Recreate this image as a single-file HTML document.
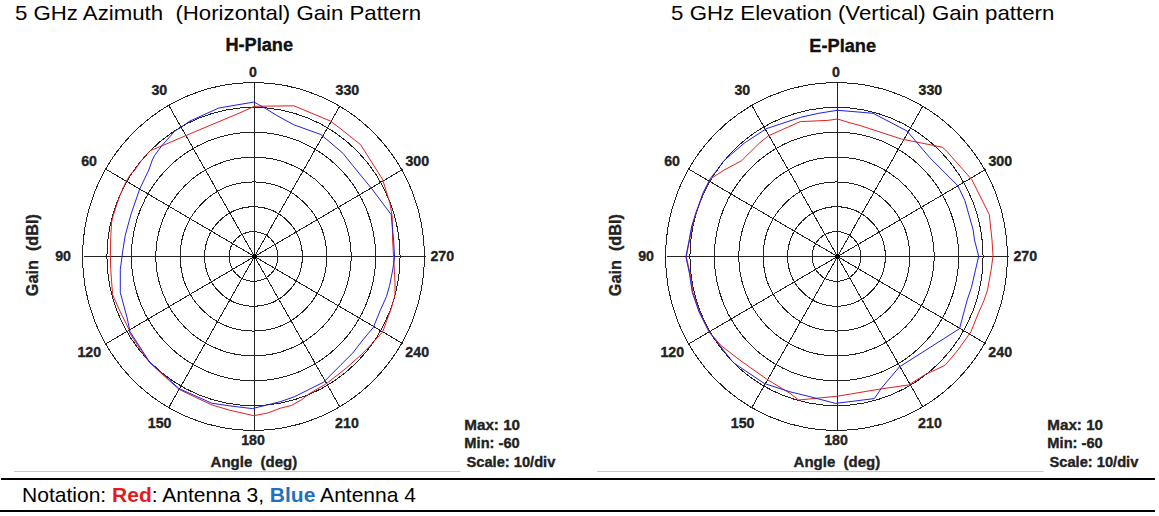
<!DOCTYPE html>
<html><head><meta charset="utf-8"><style>
html,body{margin:0;padding:0;background:#fff;}
svg{display:block;}
</style></head><body>
<svg width="1159" height="516" viewBox="0 0 1159 516">
<rect width="1159" height="516" fill="#fff"/>
<text transform="translate(14.91,20.34) scale(1.1236,1)" font-size="19.79" font-weight="400" font-family="Liberation Sans" fill="#000" stroke="#000" stroke-width="0">5 GHz Azimuth &#160;(Horizontal) Gain Pattern</text>
<text transform="translate(671.11,20.34) scale(1.1240,1)" font-size="19.79" font-weight="400" font-family="Liberation Sans" fill="#000" stroke="#000" stroke-width="0">5 GHz Elevation (Vertical) Gain pattern</text>
<ellipse cx="253.5" cy="256.5" rx="24.43" ry="24.86" fill="none" stroke="#222" stroke-width="1" shape-rendering="crispEdges"/>
<ellipse cx="253.5" cy="256.5" rx="48.86" ry="49.71" fill="none" stroke="#222" stroke-width="1" shape-rendering="crispEdges"/>
<ellipse cx="253.5" cy="256.5" rx="73.29" ry="74.57" fill="none" stroke="#222" stroke-width="1" shape-rendering="crispEdges"/>
<ellipse cx="253.5" cy="256.5" rx="97.71" ry="99.43" fill="none" stroke="#222" stroke-width="1" shape-rendering="crispEdges"/>
<ellipse cx="253.5" cy="256.5" rx="122.14" ry="124.29" fill="none" stroke="#222" stroke-width="1" shape-rendering="crispEdges"/>
<ellipse cx="253.5" cy="256.5" rx="146.57" ry="149.14" fill="none" stroke="#222" stroke-width="1" shape-rendering="crispEdges"/>
<ellipse cx="253.5" cy="256.5" rx="171.00" ry="174.00" fill="none" stroke="#222" stroke-width="1" shape-rendering="crispEdges"/>
<line x1="254.5" y1="256.5" x2="254.50" y2="82.50" stroke="#222" stroke-width="1" shape-rendering="crispEdges"/>
<line x1="254.5" y1="256.5" x2="169.00" y2="105.81" stroke="#222" stroke-width="1" shape-rendering="crispEdges"/>
<line x1="254.5" y1="256.5" x2="106.41" y2="169.50" stroke="#222" stroke-width="1" shape-rendering="crispEdges"/>
<line x1="254.5" y1="256.5" x2="83.50" y2="256.50" stroke="#222" stroke-width="1" shape-rendering="crispEdges"/>
<line x1="254.5" y1="256.5" x2="106.41" y2="343.50" stroke="#222" stroke-width="1" shape-rendering="crispEdges"/>
<line x1="254.5" y1="256.5" x2="169.00" y2="407.19" stroke="#222" stroke-width="1" shape-rendering="crispEdges"/>
<line x1="254.5" y1="256.5" x2="254.50" y2="430.50" stroke="#222" stroke-width="1" shape-rendering="crispEdges"/>
<line x1="254.5" y1="256.5" x2="340.00" y2="407.19" stroke="#222" stroke-width="1" shape-rendering="crispEdges"/>
<line x1="254.5" y1="256.5" x2="402.59" y2="343.50" stroke="#222" stroke-width="1" shape-rendering="crispEdges"/>
<line x1="254.5" y1="256.5" x2="425.50" y2="256.50" stroke="#222" stroke-width="1" shape-rendering="crispEdges"/>
<line x1="254.5" y1="256.5" x2="402.59" y2="169.50" stroke="#222" stroke-width="1" shape-rendering="crispEdges"/>
<line x1="254.5" y1="256.5" x2="340.00" y2="105.81" stroke="#222" stroke-width="1" shape-rendering="crispEdges"/>
<circle cx="254.5" cy="256.5" r="2.6" fill="#000"/>
<polyline points="254.3,106.3 240.0,112.8 190.0,133.8 162.8,145.5 150.0,150.7 144.2,157.7 141.7,160.0 134.9,170.0 131.0,173.6 126.2,181.3 119.4,196.8 113.6,214.3 111.6,222.0 110.7,237.5 110.4,256.0 110.7,269.4 112.6,294.6 119.4,310.0 129.0,329.5 130.0,333.5 140.7,350.0 149.2,362.3 178.9,389.3 200.0,399.4 212.0,405.0 229.0,410.0 253.8,415.7 267.8,413.0 280.0,408.3 291.6,405.4 301.8,399.6 309.1,393.8 326.5,383.6 346.9,367.6 361.4,354.5 370.0,345.8 382.6,332.0 386.5,321.2 391.2,308.8 395.0,294.8 395.0,282.4 393.6,257.4 392.6,240.0 392.2,216.8 390.1,204.0 382.6,179.4 360.6,144.7 340.0,128.3 330.1,120.9 293.8,105.8 254.3,106.3" fill="none" stroke="#e02020" stroke-width="1" stroke-linejoin="round"/>
<polyline points="254.3,102.0 240.0,104.4 218.8,108.0 190.0,121.0 181.4,126.9 174.4,131.5 161.6,146.0 154.7,155.3 152.3,160.0 148.8,170.0 139.7,189.0 131.0,214.3 125.2,235.6 122.9,250.0 120.3,269.4 120.3,292.6 127.1,317.8 130.0,331.7 149.2,361.4 178.9,388.5 212.0,403.3 230.0,405.9 252.3,408.6 262.0,406.2 280.0,401.8 294.5,396.7 309.1,389.4 323.6,382.2 341.0,364.7 352.7,353.1 362.8,340.0 373.3,327.4 380.3,310.3 386.5,296.4 389.6,285.5 392.7,270.0 394.6,257.4 393.6,240.0 391.2,214.6 372.0,189.0 352.8,165.6 343.0,153.4 329.1,141.4 320.8,134.5 293.6,124.7 276.2,115.1 264.8,108.1 258.7,104.6 254.3,102.2" fill="none" stroke="#2020e0" stroke-width="1" stroke-linejoin="round"/>
<text transform="translate(225.43,50.92) scale(1.0190,1)" font-size="17.84" font-weight="700" font-family="Liberation Sans" fill="#111" stroke="#111" stroke-width="0.35">H-Plane</text>
<text transform="translate(248.99,77.47) scale(0.9480,1)" font-size="15.00" font-weight="700" font-family="Liberation Sans" fill="#222" stroke="#222" stroke-width="0.35">0</text>
<text transform="translate(151.45,94.58) scale(0.9480,1)" font-size="15.00" font-weight="700" font-family="Liberation Sans" fill="#222" stroke="#222" stroke-width="0.35">30</text>
<text transform="translate(335.52,94.58) scale(0.9480,1)" font-size="15.00" font-weight="700" font-family="Liberation Sans" fill="#222" stroke="#222" stroke-width="0.35">330</text>
<text transform="translate(81.21,165.68) scale(0.9480,1)" font-size="15.00" font-weight="700" font-family="Liberation Sans" fill="#222" stroke="#222" stroke-width="0.35">60</text>
<text transform="translate(405.42,165.68) scale(0.9480,1)" font-size="15.00" font-weight="700" font-family="Liberation Sans" fill="#222" stroke="#222" stroke-width="0.35">300</text>
<text transform="translate(55.16,261.38) scale(0.9480,1)" font-size="15.00" font-weight="700" font-family="Liberation Sans" fill="#222" stroke="#222" stroke-width="0.35">90</text>
<text transform="translate(430.45,261.38) scale(0.9480,1)" font-size="15.00" font-weight="700" font-family="Liberation Sans" fill="#222" stroke="#222" stroke-width="0.35">270</text>
<text transform="translate(77.38,357.18) scale(0.9480,1)" font-size="15.00" font-weight="700" font-family="Liberation Sans" fill="#222" stroke="#222" stroke-width="0.35">120</text>
<text transform="translate(405.35,357.18) scale(0.9480,1)" font-size="15.00" font-weight="700" font-family="Liberation Sans" fill="#222" stroke="#222" stroke-width="0.35">240</text>
<text transform="translate(147.73,428.18) scale(0.9480,1)" font-size="15.00" font-weight="700" font-family="Liberation Sans" fill="#222" stroke="#222" stroke-width="0.35">150</text>
<text transform="translate(335.10,428.18) scale(0.9480,1)" font-size="15.00" font-weight="700" font-family="Liberation Sans" fill="#222" stroke="#222" stroke-width="0.35">210</text>
<text transform="translate(241.13,444.98) scale(0.9480,1)" font-size="15.00" font-weight="700" font-family="Liberation Sans" fill="#222" stroke="#222" stroke-width="0.35">180</text>
<text transform="translate(210.55,467.25) scale(1.0000,1)" font-size="15.00" font-weight="700" font-family="Liberation Sans" fill="#222" stroke="#222" stroke-width="0.35">Angle &#160;(deg)</text>
<text transform="translate(38.10,296.15) rotate(-90) scale(1.0396,1)" font-size="15.6" font-weight="700" font-family="Liberation Sans" fill="#222" stroke="#222" stroke-width="0.35">Gain &#160;(dBI)</text>
<text transform="translate(464.34,430.43) scale(1.0131,1)" font-size="15.00" font-weight="700" font-family="Liberation Sans" fill="#222" stroke="#222" stroke-width="0.35">Max: 10</text>
<text transform="translate(464.37,448.35) scale(0.9773,1)" font-size="15.00" font-weight="700" font-family="Liberation Sans" fill="#222" stroke="#222" stroke-width="0.35">Min: -60</text>
<text transform="translate(466.46,466.85) scale(0.9790,1)" font-size="15.00" font-weight="700" font-family="Liberation Sans" fill="#222" stroke="#222" stroke-width="0.35">Scale: 10/div</text>
<ellipse cx="836.5" cy="256.5" rx="24.43" ry="24.86" fill="none" stroke="#222" stroke-width="1" shape-rendering="crispEdges"/>
<ellipse cx="836.5" cy="256.5" rx="48.86" ry="49.71" fill="none" stroke="#222" stroke-width="1" shape-rendering="crispEdges"/>
<ellipse cx="836.5" cy="256.5" rx="73.29" ry="74.57" fill="none" stroke="#222" stroke-width="1" shape-rendering="crispEdges"/>
<ellipse cx="836.5" cy="256.5" rx="97.71" ry="99.43" fill="none" stroke="#222" stroke-width="1" shape-rendering="crispEdges"/>
<ellipse cx="836.5" cy="256.5" rx="122.14" ry="124.29" fill="none" stroke="#222" stroke-width="1" shape-rendering="crispEdges"/>
<ellipse cx="836.5" cy="256.5" rx="146.57" ry="149.14" fill="none" stroke="#222" stroke-width="1" shape-rendering="crispEdges"/>
<ellipse cx="836.5" cy="256.5" rx="171.00" ry="174.00" fill="none" stroke="#222" stroke-width="1" shape-rendering="crispEdges"/>
<line x1="837.5" y1="256.5" x2="837.50" y2="82.50" stroke="#222" stroke-width="1" shape-rendering="crispEdges"/>
<line x1="837.5" y1="256.5" x2="752.00" y2="105.81" stroke="#222" stroke-width="1" shape-rendering="crispEdges"/>
<line x1="837.5" y1="256.5" x2="689.41" y2="169.50" stroke="#222" stroke-width="1" shape-rendering="crispEdges"/>
<line x1="837.5" y1="256.5" x2="666.50" y2="256.50" stroke="#222" stroke-width="1" shape-rendering="crispEdges"/>
<line x1="837.5" y1="256.5" x2="689.41" y2="343.50" stroke="#222" stroke-width="1" shape-rendering="crispEdges"/>
<line x1="837.5" y1="256.5" x2="752.00" y2="407.19" stroke="#222" stroke-width="1" shape-rendering="crispEdges"/>
<line x1="837.5" y1="256.5" x2="837.50" y2="430.50" stroke="#222" stroke-width="1" shape-rendering="crispEdges"/>
<line x1="837.5" y1="256.5" x2="923.00" y2="407.19" stroke="#222" stroke-width="1" shape-rendering="crispEdges"/>
<line x1="837.5" y1="256.5" x2="985.59" y2="343.50" stroke="#222" stroke-width="1" shape-rendering="crispEdges"/>
<line x1="837.5" y1="256.5" x2="1008.50" y2="256.50" stroke="#222" stroke-width="1" shape-rendering="crispEdges"/>
<line x1="837.5" y1="256.5" x2="985.59" y2="169.50" stroke="#222" stroke-width="1" shape-rendering="crispEdges"/>
<line x1="837.5" y1="256.5" x2="923.00" y2="105.81" stroke="#222" stroke-width="1" shape-rendering="crispEdges"/>
<circle cx="837.5" cy="256.5" r="2.6" fill="#000"/>
<polyline points="837.5,119.0 827.8,120.4 800.2,121.6 768.7,135.7 760.0,142.5 741.6,160.7 723.9,170.2 710.4,179.0 703.6,192.7 696.6,211.9 692.2,225.8 689.6,239.8 686.3,256.8 690.0,273.3 693.0,292.6 699.6,312.0 709.0,331.4 720.9,345.5 741.0,361.0 767.4,379.6 790.0,393.3 798.7,400.0 837.5,396.2 881.1,388.9 908.5,385.0 924.8,374.8 945.1,365.3 958.0,350.0 970.9,331.8 977.9,314.3 984.0,300.4 987.5,289.9 991.0,270.7 993.0,256.0 992.0,240.0 989.3,214.6 971.9,179.7 945.7,150.0 942.3,147.2 901.6,139.1 860.0,125.5 850.0,122.8 837.5,119.0" fill="none" stroke="#e02020" stroke-width="1" stroke-linejoin="round"/>
<polyline points="837.2,110.3 818.1,113.4 800.7,117.3 766.0,128.8 760.0,132.8 744.3,143.1 723.9,160.7 717.1,170.0 710.4,178.3 703.2,192.7 696.2,211.9 691.8,225.8 689.2,239.8 685.9,256.8 689.4,273.3 692.3,292.6 699.1,312.0 708.8,331.4 710.0,333.1 733.3,362.6 764.3,383.5 790.0,391.8 810.0,396.7 835.5,403.4 874.3,398.6 882.0,387.4 899.4,366.9 959.5,328.7 967.2,300.0 971.4,287.6 978.7,256.2 974.5,240.0 973.2,230.0 964.9,200.6 957.9,185.8 930.0,157.9 907.0,131.0 873.1,113.3 850.0,111.3 837.2,110.3" fill="none" stroke="#2020e0" stroke-width="1" stroke-linejoin="round"/>
<text transform="translate(809.33,51.52) scale(0.9978,1)" font-size="18.24" font-weight="700" font-family="Liberation Sans" fill="#111" stroke="#111" stroke-width="0.35">E-Plane</text>
<text transform="translate(831.99,77.47) scale(0.9480,1)" font-size="15.00" font-weight="700" font-family="Liberation Sans" fill="#222" stroke="#222" stroke-width="0.35">0</text>
<text transform="translate(734.45,94.58) scale(0.9480,1)" font-size="15.00" font-weight="700" font-family="Liberation Sans" fill="#222" stroke="#222" stroke-width="0.35">30</text>
<text transform="translate(918.52,94.58) scale(0.9480,1)" font-size="15.00" font-weight="700" font-family="Liberation Sans" fill="#222" stroke="#222" stroke-width="0.35">330</text>
<text transform="translate(664.21,165.68) scale(0.9480,1)" font-size="15.00" font-weight="700" font-family="Liberation Sans" fill="#222" stroke="#222" stroke-width="0.35">60</text>
<text transform="translate(988.42,165.68) scale(0.9480,1)" font-size="15.00" font-weight="700" font-family="Liberation Sans" fill="#222" stroke="#222" stroke-width="0.35">300</text>
<text transform="translate(638.16,261.38) scale(0.9480,1)" font-size="15.00" font-weight="700" font-family="Liberation Sans" fill="#222" stroke="#222" stroke-width="0.35">90</text>
<text transform="translate(1013.45,261.38) scale(0.9480,1)" font-size="15.00" font-weight="700" font-family="Liberation Sans" fill="#222" stroke="#222" stroke-width="0.35">270</text>
<text transform="translate(660.38,357.18) scale(0.9480,1)" font-size="15.00" font-weight="700" font-family="Liberation Sans" fill="#222" stroke="#222" stroke-width="0.35">120</text>
<text transform="translate(988.35,357.18) scale(0.9480,1)" font-size="15.00" font-weight="700" font-family="Liberation Sans" fill="#222" stroke="#222" stroke-width="0.35">240</text>
<text transform="translate(730.73,428.18) scale(0.9480,1)" font-size="15.00" font-weight="700" font-family="Liberation Sans" fill="#222" stroke="#222" stroke-width="0.35">150</text>
<text transform="translate(918.10,428.18) scale(0.9480,1)" font-size="15.00" font-weight="700" font-family="Liberation Sans" fill="#222" stroke="#222" stroke-width="0.35">210</text>
<text transform="translate(824.13,444.98) scale(0.9480,1)" font-size="15.00" font-weight="700" font-family="Liberation Sans" fill="#222" stroke="#222" stroke-width="0.35">180</text>
<text transform="translate(793.55,467.25) scale(1.0000,1)" font-size="15.00" font-weight="700" font-family="Liberation Sans" fill="#222" stroke="#222" stroke-width="0.35">Angle &#160;(deg)</text>
<text transform="translate(621.10,296.15) rotate(-90) scale(1.0396,1)" font-size="15.6" font-weight="700" font-family="Liberation Sans" fill="#222" stroke="#222" stroke-width="0.35">Gain &#160;(dBI)</text>
<text transform="translate(1047.34,430.43) scale(1.0131,1)" font-size="15.00" font-weight="700" font-family="Liberation Sans" fill="#222" stroke="#222" stroke-width="0.35">Max: 10</text>
<text transform="translate(1047.37,448.35) scale(0.9773,1)" font-size="15.00" font-weight="700" font-family="Liberation Sans" fill="#222" stroke="#222" stroke-width="0.35">Min: -60</text>
<text transform="translate(1049.46,466.85) scale(0.9790,1)" font-size="15.00" font-weight="700" font-family="Liberation Sans" fill="#222" stroke="#222" stroke-width="0.35">Scale: 10/div</text>
<line x1="14" y1="471.5" x2="460.5" y2="471.5" stroke="#c8c8c8" stroke-width="1"/>
<line x1="597" y1="471.5" x2="1043.5" y2="471.5" stroke="#c8c8c8" stroke-width="1"/>
<rect x="1" y="478" width="1154" height="2" fill="#000"/>
<rect x="0" y="510" width="1155" height="2" fill="#000"/>
<text x="22" y="501.7" font-family="Liberation Sans" font-size="20.4" fill="#000" textLength="394" lengthAdjust="spacingAndGlyphs">Notation: <tspan fill="#e41b1b" font-weight="bold">Red</tspan>: Antenna 3, <tspan fill="#1f72c0" font-weight="bold">Blue</tspan> Antenna 4</text>
</svg>
</body></html>
